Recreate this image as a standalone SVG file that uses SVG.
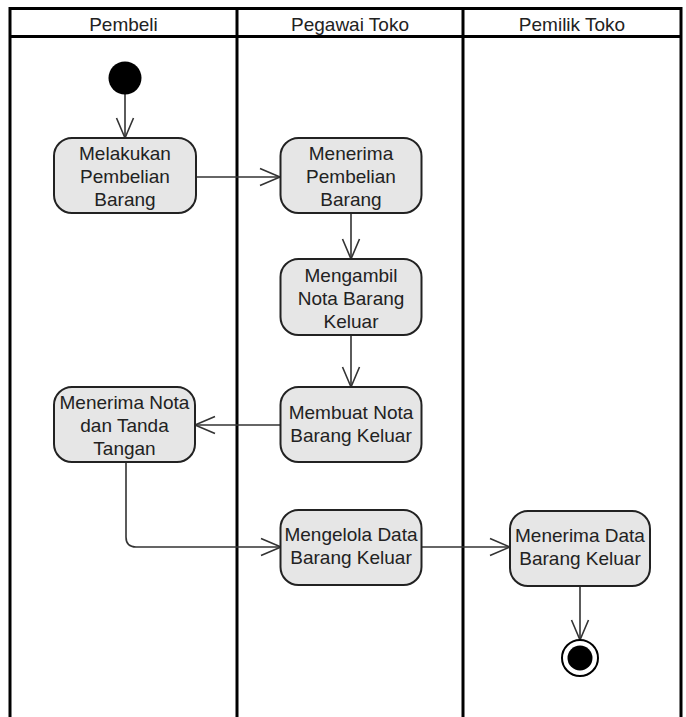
<svg xmlns="http://www.w3.org/2000/svg" width="686" height="717" viewBox="0 0 686 717">
<style>
.lane{fill:none;stroke:#000;stroke-width:3}
.hdr{font-family:"Liberation Sans",Arial,sans-serif;font-size:19px;fill:#222;text-anchor:middle}
.box{fill:#e6e6e6;stroke:#222;stroke-width:2}
.lbl{font-family:"Liberation Sans",Arial,sans-serif;font-size:19px;fill:#222;text-anchor:middle}
.edge{fill:none;stroke:#333;stroke-width:1.6}
.head{fill:none;stroke:#333;stroke-width:1.6}
</style>
<rect width="686" height="717" fill="#fff"/>
<g id="swimlanes">
<path class="lane" d="M10,720 V8.5 H681 V720 M10,36.5 H681 M237,8.5 V720 M463,8.5 V720"/>
<text class="hdr" x="123.5" y="31">Pembeli</text>
<text class="hdr" x="350" y="31">Pegawai Toko</text>
<text class="hdr" x="572" y="31">Pemilik Toko</text>
</g>
<g id="connectors">
<path class="edge" d="M125,94 V138"/>
<path class="head" d="M116.5,118 L125,138 L133.5,118"/>
<path class="edge" d="M196,177 H280"/>
<path class="head" d="M260,168.5 L280,177 L260,185.5"/>
<path class="edge" d="M351,213 V259"/>
<path class="head" d="M342.5,239 L351,259 L359.5,239"/>
<path class="edge" d="M351,335 V387"/>
<path class="head" d="M342.5,367 L351,387 L359.5,367"/>
<path class="edge" d="M281,425 H195"/>
<path class="head" d="M215,416.5 L195,425 L215,433.5"/>
<path class="edge" d="M126,462 V537 Q126,547 136,547 H281"/>
<path class="head" d="M261,538.5 L281,547 L261,555.5"/>
<path class="edge" d="M422,547 H510"/>
<path class="head" d="M490,538.5 L510,547 L490,555.5"/>
<path class="edge" d="M580,586 V640"/>
<path class="head" d="M571.5,620 L580,640 L588.5,620"/>
</g>
<g id="start"><circle cx="125" cy="78" r="16.5" fill="#000"/></g>
<g id="n1"><rect class="box" x="54" y="138" width="142" height="75" rx="18"/>
<text class="lbl" x="125" y="160">Melakukan</text><text class="lbl" x="125" y="183">Pembelian</text><text class="lbl" x="125" y="206">Barang</text></g>
<g id="n2"><rect class="box" x="280.5" y="138" width="141" height="75" rx="18"/>
<text class="lbl" x="351" y="160">Menerima</text><text class="lbl" x="351" y="183">Pembelian</text><text class="lbl" x="351" y="206">Barang</text></g>
<g id="n3"><rect class="box" x="280.5" y="259" width="141" height="76" rx="18"/>
<text class="lbl" x="351" y="281.5">Mengambil</text><text class="lbl" x="351" y="304.5">Nota Barang</text><text class="lbl" x="351" y="327.5">Keluar</text></g>
<g id="n4"><rect class="box" x="280.5" y="387" width="141" height="75" rx="18"/>
<text class="lbl" x="351" y="419">Membuat Nota</text><text class="lbl" x="351" y="442">Barang Keluar</text></g>
<g id="n5"><rect class="box" x="54" y="387" width="141" height="75" rx="18"/>
<text class="lbl" x="124.5" y="409">Menerima Nota</text><text class="lbl" x="124.5" y="432">dan Tanda</text><text class="lbl" x="124.5" y="455">Tangan</text></g>
<g id="n6"><rect class="box" x="280.5" y="510" width="141" height="75" rx="18"/>
<text class="lbl" x="351" y="541">Mengelola Data</text><text class="lbl" x="351" y="564">Barang Keluar</text></g>
<g id="n7"><rect class="box" x="510" y="511" width="140" height="75" rx="18"/>
<text class="lbl" x="580" y="541.5">Menerima Data</text><text class="lbl" x="580" y="564.5">Barang Keluar</text></g>
<g id="end"><circle cx="580" cy="658" r="18" fill="#fff" stroke="#000" stroke-width="2"/><circle cx="580" cy="658" r="12.5" fill="#000"/></g>
</svg>
